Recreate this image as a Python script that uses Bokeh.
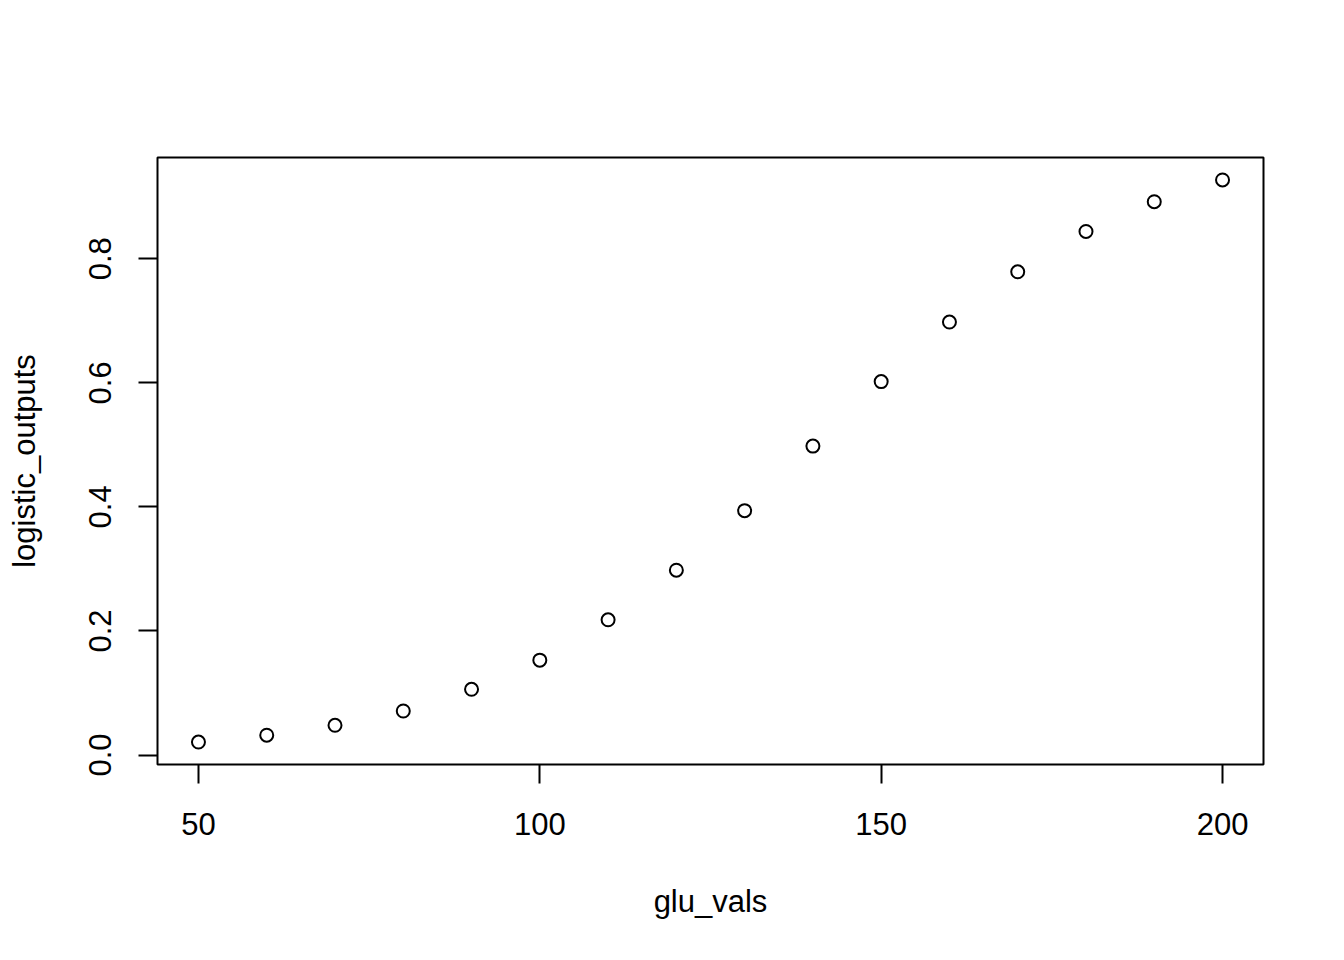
from bokeh.plotting import figure
from bokeh.models import Range1d, FixedTicker, PrintfTickFormatter
from bokeh.embed import file_html
from bokeh.resources import INLINE

glu_vals = [50, 60, 70, 80, 90, 100, 110, 120, 130, 140, 150, 160, 170, 180, 190, 200]
logistic_outputs = [0.021, 0.032, 0.048, 0.071, 0.106, 0.153, 0.218, 0.298,
                    0.394, 0.498, 0.602, 0.698, 0.779, 0.844, 0.892, 0.927]
x_ticks = [50, 100, 150, 200]
y_ticks = [0.0, 0.2, 0.4, 0.6, 0.8]

def r_range(v):
    lo, hi = min(v), max(v)
    d = (hi - lo) * 0.04
    return lo - d, hi + d

xr = r_range(glu_vals)
yr = r_range(logistic_outputs)

FONT = "Liberation Sans"

p = figure(output_backend="svg", toolbar_location=None,
           frame_width=1106, frame_height=607,
           x_range=Range1d(*xr), y_range=Range1d(*yr))
p.min_border_left = 157
p.min_border_top = 157
p.min_border_right = 73
p.min_border_bottom = 188
p.background_fill_color = "white"
p.border_fill_color = "white"
p.outline_line_color = "black"
p.outline_line_width = 2
p.grid.visible = False

p.scatter(glu_vals, logistic_outputs, marker="circle", size=13,
          fill_color=None, line_color="black", line_width=2)

for ax in (p.xaxis[0], p.yaxis[0]):
    ax.axis_line_color = None
    ax.major_tick_line_color = "black"
    ax.major_tick_line_width = 2
    ax.major_tick_out = 19
    ax.major_tick_in = 0
    ax.minor_tick_line_color = None
    ax.major_label_text_font = FONT
    ax.major_label_text_font_size = "31px"
    ax.major_label_text_color = "black"
    ax.axis_label_text_font = FONT
    ax.axis_label_text_font_size = "31px"
    ax.axis_label_text_font_style = "normal"
    ax.axis_label_text_color = "black"

p.xaxis[0].ticker = FixedTicker(ticks=x_ticks)
p.yaxis[0].ticker = FixedTicker(ticks=y_ticks)
p.yaxis[0].formatter = PrintfTickFormatter(format="%.1f")
p.yaxis[0].major_label_orientation = "vertical"
p.xaxis[0].axis_label = "glu_vals"
p.yaxis[0].axis_label = "logistic_outputs"
p.xaxis[0].major_label_standoff = 29
p.yaxis[0].major_label_standoff = 27
p.xaxis[0].axis_label_standoff = 46
p.yaxis[0].axis_label_standoff = 45

open("out.html", "w").write(file_html(p, INLINE))
